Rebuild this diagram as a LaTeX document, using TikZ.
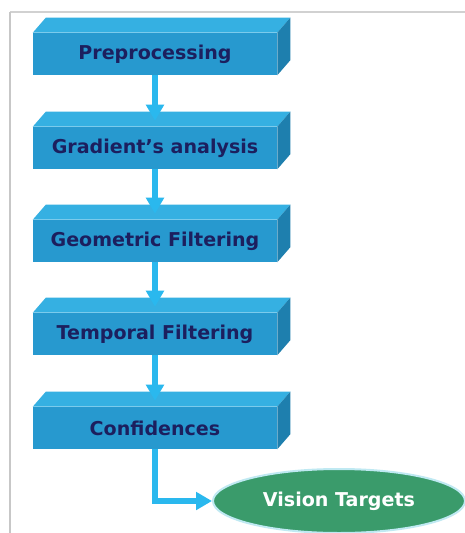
\documentclass[tikz,border=0pt]{standalone}
\usepackage{fontspec}
\setmainfont{DejaVu Sans}
\usetikzlibrary{arrows.meta,shapes.geometric}
\definecolor{frontc}{HTML}{2799CF}
\definecolor{topc}{HTML}{35B0E2}
\definecolor{sidec}{HTML}{1E7FAE}
\definecolor{txtc}{HTML}{1C1F5E}
\definecolor{arrc}{HTML}{2AB8EE}
\definecolor{ellc}{HTML}{3A9B6B}
\definecolor{rimc}{HTML}{BFE9F2}
\tikzset{
  stepbox/.style={rectangle, fill=frontc, minimum width=183pt, minimum height=31.5pt,
    inner sep=0pt, text=txtc, font=\fontsize{14.3}{17}\selectfont\bfseries},
  flow/.style={draw=arrc, line width=4.5pt, line join=miter, -{Triangle[width=13pt,length=12pt]}},
  target/.style={ellipse, fill=ellc, draw=rimc, line width=1.5pt, minimum width=189pt,
    minimum height=48pt, inner sep=0pt, text=white, font=\fontsize{14.3}{17}\selectfont\bfseries}
}
\newcommand{\boxdepth}[1]{%
  \fill[topc] (#1.north west) -- ++(9.75pt,11.25pt) -- ([xshift=9.75pt,yshift=11.25pt]#1.north east) -- (#1.north east) -- cycle;
  \fill[sidec] (#1.north east) -- ++(9.75pt,11.25pt) -- ([xshift=9.75pt,yshift=11.25pt]#1.south east) -- (#1.south east) -- cycle;
}
\begin{document}
\begin{tikzpicture}[x=0.75pt,y=-0.75pt]
\useasboundingbox (0,0) rectangle (465,533);
\fill[white] (0,0) rectangle (465,533);
\draw[draw=black!18, line width=1.5pt] (10,12) -- (465,12);
\draw[draw=black!22, line width=1.5pt] (10,12) -- (10,533);

\node[stepbox] (b1) at (155,54) {Preprocessing};
\node[stepbox] (b2) at (155,148) {Gradient’s analysis};
\node[stepbox] (b3) at (155,241) {Geometric Filtering};
\node[stepbox] (b4) at (155,334) {Temporal Filtering};
\node[stepbox] (b5) at (155,428) {Confidences};
\boxdepth{b1}
\boxdepth{b2}
\boxdepth{b3}
\boxdepth{b4}
\boxdepth{b5}

\node[target] (vt) at (339,501) {Vision Targets};

\draw[flow] (b1.south) -- ([yshift=4.5pt]b2.north);
\draw[flow] (b2.south) -- ([yshift=4.5pt]b3.north);
\draw[flow] (b3.south) -- ([yshift=4.5pt]b4.north);
\draw[flow] (b4.south) -- ([yshift=4.5pt]b5.north);
\draw[flow] (b5.south) -- (b5.south |- vt.west) -- (vt.west);
\end{tikzpicture}
\end{document}
